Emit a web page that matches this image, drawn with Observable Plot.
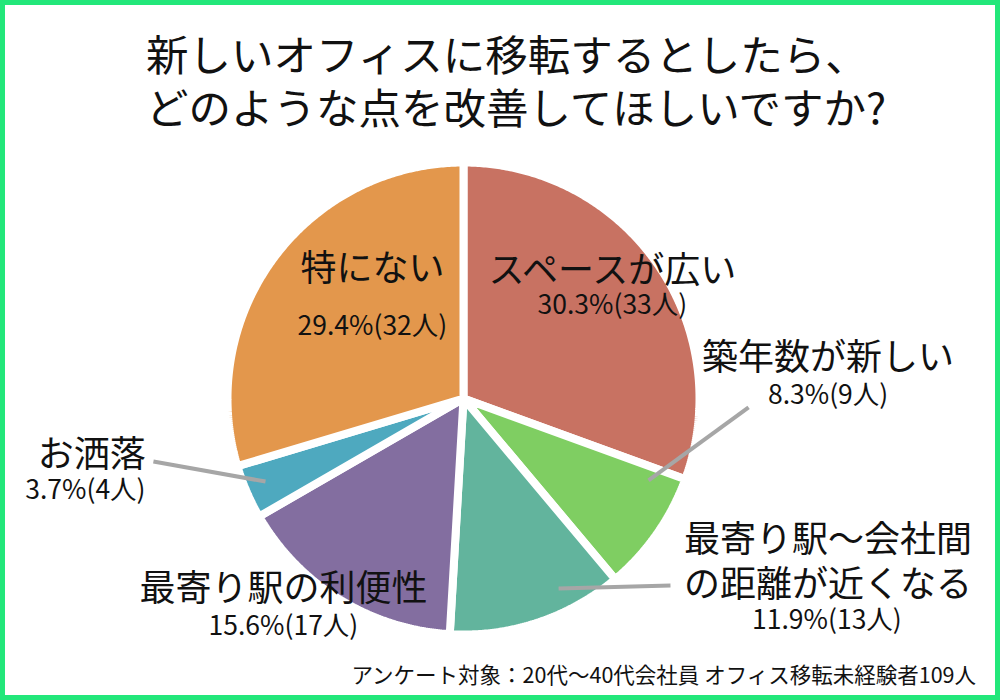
<!DOCTYPE html>
<html>
<head>
<meta charset="utf-8">
<script src="https://cdn.jsdelivr.net/npm/d3@7"></script>
<script src="https://cdn.jsdelivr.net/npm/@observablehq/plot@0.6"></script>
<style>
  html, body { margin: 0; padding: 0; background: #fff; }
  #wrap { position: relative; width: 1000px; height: 700px; background: #fff; overflow: hidden;
          font-family: "Noto Sans CJK JP", "Noto Sans", sans-serif; color: #111; }
  #border { position: absolute; left: 0; top: 0; width: 1000px; height: 700px; box-sizing: border-box;
            border: 5px solid #22e77a; pointer-events: none; z-index: 5; }
  #title { position: absolute; left: 146px; top: 26px; font-size: 42.5px; line-height: 53px;
           white-space: pre; z-index: 3; }
  #chart { position: absolute; left: 0; top: 0; }
  #caption { position: absolute; right: 24px; top: 659px; font-size: 21.5px; line-height: 30px; z-index: 3; }
</style>
</head>
<body>
<div id="wrap">
  <div id="chart"></div>
  <div id="title"></div>
  <div id="caption"></div>
  <div id="border"></div>
</div>
<script>
// ---- data ----
const titleLines = ["新しいオフィスに移転するとしたら、", "どのような点を改善してほしいですか?"];
const caption = "アンケート対象：20代〜40代会社員 オフィス移転未経験者109人";
const respondents = 109;
const categories = ["スペースが広い", "築年数が新しい", "最寄り駅〜会社間\nの距離が近くなる", "最寄り駅の利便性", "お洒落", "特にない"];
const counts = [33, 9, 13, 17, 4, 32];
const colors = ["#c87262", "#7fce62", "#62b49d", "#836ea0", "#4ea9bf", "#e3974c"];

// ---- layout (unit coordinates, pie radius = 1) ----
const nameX = [0.631, 1.545, 1.545, -0.763, -1.575, -0.386];
const nameY = [0.551, 0.182, -0.686, -0.796, -0.229, 0.560];
const pctX  = [0.631, 1.545, 1.540, -0.763, -1.602, -0.386];
const pctY  = [0.393, 0.013, -0.941, -0.966, -0.390, 0.305];
const leaders = [
  {x1: 0.784, y1: -0.347, x2: 1.208, y2: -0.038},
  {x1: 0.403, y1: -0.805, x2: 0.877, y2: -0.792},
  {x1: -0.839, y1: -0.352, x2: -1.314, y2: -0.267}
];

document.getElementById("title").textContent = titleLines.join("\n");
document.getElementById("caption").textContent = caption;

// pie geometry from counts
const pie = d3.pie().sort(null).value(d => d.count)
  (categories.map((c, i) => ({name: c, count: counts[i]})));
const slicePts = [];
pie.forEach(p => {
  const n = Math.max(4, Math.ceil((p.endAngle - p.startAngle) / (Math.PI / 360)));
  slicePts.push({name: p.data.name, x: 0, y: 0});
  for (let k = 0; k <= n; k++) {
    const a = p.startAngle + (p.endAngle - p.startAngle) * k / n;
    slicePts.push({name: p.data.name, x: Math.sin(a), y: Math.cos(a)});
  }
  slicePts.push({name: p.data.name, x: 0, y: 0});
});

const names = categories.map((c, i) => ({text: c, x: nameX[i], y: nameY[i]}));
const pcts = categories.map((c, i) => ({
  text: (counts[i] / respondents * 100).toFixed(1) + "%(" + counts[i] + "人)",
  x: pctX[i], y: pctY[i]
}));

const cx = 463, cy = 398, R = 236;
const chart = Plot.plot({
  width: 1000, height: 700,
  marginLeft: cx - R, marginRight: 1000 - cx - R,
  marginTop: cy - R, marginBottom: 700 - cy - R,
  x: {domain: [-1, 1], axis: null},
  y: {domain: [-1, 1], axis: null},
  color: {domain: categories, range: colors},
  style: {fontFamily: "'Noto Sans CJK JP', 'Noto Sans', sans-serif", background: "transparent", overflow: "visible"},
  marks: [
    Plot.line(slicePts, {x: "x", y: "y", z: "name", fill: "name", stroke: "white", strokeWidth: 8, strokeLinejoin: "miter"}),
    Plot.link(leaders, {x1: "x1", y1: "y1", x2: "x2", y2: "y2", stroke: "#a6a6a6", strokeWidth: 4, strokeLinecap: "butt"}),
    Plot.text(names, {x: "x", y: "y", text: "text", fontSize: 36, lineHeight: 1.23, fill: "#111"}),
    Plot.text(pcts, {x: "x", y: "y", text: "text", fontSize: 26.5, fill: "#111"})
  ]
});
document.getElementById("chart").appendChild(chart);
</script>
</body>
</html>
